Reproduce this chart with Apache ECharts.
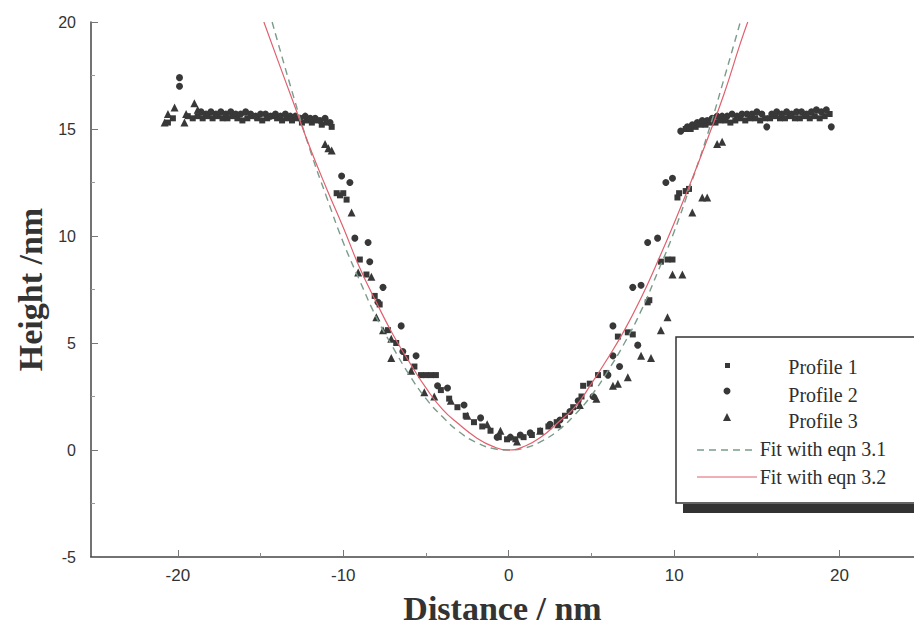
<!DOCTYPE html>
<html>
<head>
<meta charset="utf-8">
<title>Height profile</title>
<script src="https://cdn.jsdelivr.net/npm/echarts@6/dist/echarts.min.js"></script>
<style>
  html, body { margin: 0; padding: 0; background: #fff; }
  #main { width: 914px; height: 630px; }
</style>
</head>
<body>
<div id="main"></div>
<script>
'use strict';

// tick labels
var xLabels = [-20, -10, 0, 10, 20];
var xMinorTicks = [-15, -5, 5, 15];

// Profile 1 (squares)
var profile1 = [
    [-20.6, 15.3], [-20.3, 15.5], [-19.4, 15.6], [-19.1, 15.5], [-18.8, 15.6], [-18.5, 15.5], [-18.2, 15.6],
    [-17.9, 15.5], [-17.6, 15.6], [-17.3, 15.5], [-17.0, 15.5], [-16.7, 15.6], [-16.4, 15.5], [-16.1, 15.4],
    [-15.8, 15.5], [-15.5, 15.6], [-15.2, 15.5], [-14.9, 15.4], [-14.6, 15.5], [-14.3, 15.6], [-14.0, 15.5],
    [-13.7, 15.4], [-13.4, 15.5], [-13.1, 15.4], [-12.8, 15.5], [-12.5, 15.3], [-12.2, 15.4], [-11.9, 15.3],
    [-11.6, 15.4], [-11.3, 15.2], [-11.0, 15.3], [-10.7, 15.1],
    [-10.4, 12.0], [-10.2, 11.9], [-10.0, 12.0], [-9.8, 11.7], [-9.0, 8.9], [-8.6, 8.2], [-8.1, 7.2],
    [-7.8, 6.8], [-7.3, 5.6], [-6.8, 5.0], [-6.2, 4.3], [-5.7, 3.9], [-5.3, 3.5], [-5.0, 3.5], [-4.7, 3.5],
    [-4.4, 3.5], [-4.1, 2.8], [-3.6, 2.4], [-3.1, 2.0], [-2.6, 1.6], [-2.1, 1.3], [-1.6, 1.1], [-1.1, 0.9],
    [-0.6, 0.6], [-0.1, 0.5], [0.4, 0.5], [0.9, 0.6], [1.4, 0.7], [1.9, 0.9], [2.4, 1.1], [2.9, 1.3],
    [3.4, 1.6], [3.9, 2.0], [4.4, 2.5], [4.5, 3.0], [4.9, 3.1], [5.4, 3.5], [5.9, 3.6], [6.6, 5.3],
    [7.2, 5.5], [7.5, 5.4], [8.4, 6.9], [8.5, 7.0], [9.2, 8.8], [9.6, 8.9], [9.9, 8.9], [10.2, 11.8],
    [10.3, 12.0], [10.7, 12.1], [10.9, 12.2],
    [10.7, 15.0], [11.0, 15.0], [11.3, 15.1], [11.6, 15.2], [11.9, 15.2], [12.2, 15.3], [12.5, 15.3],
    [12.8, 15.4], [13.1, 15.4], [13.4, 15.3], [13.7, 15.4], [14.0, 15.5], [14.3, 15.4], [14.6, 15.5],
    [14.9, 15.5], [15.2, 15.4], [15.5, 15.5], [15.8, 15.5], [16.1, 15.6], [16.4, 15.5], [16.7, 15.5],
    [17.0, 15.6], [17.3, 15.5], [17.6, 15.5], [17.9, 15.6], [18.2, 15.5], [18.5, 15.6], [18.8, 15.5],
    [19.1, 15.6], [19.4, 15.7]
];

// Profile 2 (circles)
var profile2 = [
    [-19.9, 17.4], [-19.9, 17.0],
    [-18.6, 15.8], [-18.3, 15.7], [-18.0, 15.8], [-17.7, 15.7], [-17.4, 15.8], [-17.1, 15.7], [-16.8, 15.8],
    [-16.5, 15.7], [-16.2, 15.7], [-15.9, 15.8], [-15.6, 15.7], [-15.3, 15.6], [-15.0, 15.7], [-14.7, 15.7],
    [-14.4, 15.6], [-14.1, 15.7], [-13.8, 15.6], [-13.5, 15.7], [-13.2, 15.6], [-12.9, 15.6], [-12.6, 15.5],
    [-12.3, 15.6], [-12.0, 15.5], [-11.7, 15.5], [-11.4, 15.4], [-11.1, 15.5], [-10.8, 15.3],
    [-10.1, 12.8], [-9.6, 12.5], [-9.3, 9.9], [-8.5, 9.7], [-8.4, 8.8], [-7.6, 7.6], [-7.9, 6.9],
    [-6.5, 5.8], [-6.4, 4.6], [-5.6, 4.4], [-4.3, 3.0], [-3.7, 2.9], [-2.7, 2.1], [-1.7, 1.5], [-0.7, 0.6],
    [0.1, 0.6], [0.7, 0.7], [1.3, 0.8], [2.5, 1.2], [3.1, 1.4], [3.7, 1.8], [4.2, 2.3], [5.1, 2.5],
    [6.0, 3.5], [6.7, 3.9], [6.3, 4.4], [7.8, 4.9], [6.3, 5.8], [7.5, 7.6], [8.0, 7.7], [8.4, 9.7],
    [9.0, 9.9], [9.5, 12.5], [9.9, 12.7],
    [10.4, 14.9], [10.8, 15.1], [11.1, 15.2], [11.4, 15.3], [11.7, 15.4], [12.0, 15.4], [12.3, 15.5],
    [12.6, 15.6], [12.9, 15.6], [13.2, 15.6], [13.5, 15.7], [13.8, 15.6], [14.1, 15.7], [14.4, 15.7],
    [14.7, 15.7], [15.0, 15.8], [15.3, 15.7], [15.6, 15.1], [15.9, 15.7], [16.2, 15.8], [16.5, 15.7],
    [16.8, 15.8], [17.1, 15.7], [17.4, 15.8], [17.7, 15.8], [18.0, 15.7], [18.3, 15.8], [18.6, 15.9],
    [18.9, 15.8], [19.2, 15.9], [19.5, 15.1]
];

// Profile 3 (triangles)
var profile3 = [
    [-20.8, 15.3], [-20.6, 15.7], [-20.2, 16.0], [-19.6, 15.3], [-19.5, 15.7], [-19.0, 16.2], [-18.8, 15.9],
    [-11.1, 14.3], [-10.9, 14.1], [-10.7, 14.0], [-9.5, 11.1], [-9.1, 8.3], [-8.3, 8.1], [-8.0, 6.2],
    [-7.6, 5.6], [-7.1, 5.2], [-7.1, 4.3], [-5.9, 3.7], [-5.1, 2.7], [-4.5, 2.5], [-3.5, 2.3], [-2.5, 1.6],
    [-1.3, 1.2], [-0.5, 0.9], [0.5, 0.4], [1.9, 0.9], [3.0, 1.2], [4.3, 2.1], [5.3, 2.4], [6.3, 3.0],
    [6.6, 3.1], [7.2, 3.4], [8.0, 4.4], [8.6, 4.3], [9.2, 5.6], [9.6, 6.2], [9.9, 8.2], [10.5, 8.2],
    [11.1, 11.1], [11.7, 11.8], [12.0, 11.8], [12.6, 14.3], [12.9, 14.4]
];

// Fit with eqn 3.1 (dashed)
var fit31 = [
    [-14.3, 20], [-13, 16.5], [-12, 14.0], [-11, 11.8], [-10, 9.7], [-9, 7.9], [-8, 6.2], [-7, 4.8],
    [-6, 3.5], [-5, 2.4], [-4, 1.55], [-3, 0.85], [-2, 0.37], [-1, 0.08], [0, 0], [1, 0.1], [2, 0.42],
    [3, 0.92], [4, 1.65], [5, 2.55], [6, 3.7], [7, 5.0], [8, 6.5], [9, 8.3], [10, 10.2], [11, 12.4],
    [12, 14.7], [13, 17.3], [14, 20]
];

// Fit with eqn 3.2 (solid red)
var fit32 = [
    [-14.8, 20], [-14, 18.3], [-13, 16.2], [-12, 14.1], [-11, 12.2], [-10, 10.4], [-9, 8.5], [-8, 6.9],
    [-7, 5.4], [-6, 4.1], [-5, 2.9], [-4, 1.9], [-3, 1.2], [-2, 0.6], [-1, 0.18], [0, 0], [1, 0.19],
    [2, 0.63], [3, 1.3], [4, 2.0], [5, 3.1], [6, 4.3], [7, 5.6], [8, 7.1], [9, 8.8], [10, 10.6],
    [11, 12.5], [12, 14.5], [13, 16.6], [14, 19.0], [14.45, 20]
];

var dark = '#383838';
var serif = '"Liberation Serif", "DejaVu Serif", serif';

var chart = echarts.init(document.getElementById('main'), null, { renderer: 'svg' });

//图例
function legendGraphic() {
    var items = [];
    items.push({ type: 'rect', shape: { x: 676, y: 337, width: 260, height: 166 },
        style: { fill: '#fff', stroke: '#333', lineWidth: 1.5 }, z: 10 });
    items.push({ type: 'rect', shape: { x: 683, y: 504, width: 240, height: 9 },
        style: { fill: '#333' }, z: 10 });
    items.push({ type: 'rect', shape: { x: 725, y: 363, width: 5, height: 5 }, style: { fill: dark }, z: 11 });
    items.push({ type: 'circle', shape: { cx: 727, cy: 391, r: 3.5 }, style: { fill: dark }, z: 11 });
    items.push({ type: 'polygon', shape: { points: [[723, 421], [731, 421], [727, 413]] }, style: { fill: dark }, z: 11 });
    items.push({ type: 'line', shape: { x1: 697, y1: 450, x2: 757, y2: 450 },
        style: { stroke: '#7a9c8a', lineWidth: 1.5, lineDash: [7, 5] }, z: 11 });
    items.push({ type: 'line', shape: { x1: 697, y1: 477, x2: 757, y2: 477 },
        style: { stroke: '#e0606e', lineWidth: 1.2 }, z: 11 });
    var texts = [['Profile 1', 367], ['Profile 2', 395], ['Profile 3', 421], ['Fit with eqn 3.1', 449], ['Fit with eqn 3.2', 477]];
    texts.forEach(function(t) {
        items.push({ type: 'text', x: 823, y: t[1], z: 11,
            style: { text: t[0], fill: '#2e2e2e', font: '20px ' + serif, align: 'center', verticalAlign: 'middle' } });
    });
    return items;
}

var option = {
    animation: false,
    backgroundColor: '#fff',
    grid: { left: 91, right: 0, top: 22, bottom: 71, containLabel: false },
    xAxis: [{
        type: 'value', min: -25.25, max: 24.5, position: 'bottom',
        name: 'Distance / nm', nameLocation: 'middle', nameGap: 34,
        nameTextStyle: { fontFamily: serif, fontWeight: 'bold', fontSize: 34, color: '#333' },
        axisLine: { show: true, onZero: false, lineStyle: { color: '#444', width: 1.5 } },
        axisTick: { show: true, inside: true, length: 7, customValues: xLabels, lineStyle: { color: '#777' } },
        axisLabel: { customValues: xLabels, margin: 10, color: '#333', fontSize: 17,
            fontFamily: '"Liberation Sans Narrow", "Liberation Sans", sans-serif' },
        splitLine: { show: false }
    }, {
        type: 'value', min: -25.25, max: 24.5, position: 'bottom',
        axisLine: { show: false, onZero: false },
        axisTick: { show: true, inside: true, length: 4, customValues: xMinorTicks, lineStyle: { color: '#888' } },
        axisLabel: { show: false },
        splitLine: { show: false }
    }],
    yAxis: {
        type: 'value', min: -5, max: 20, interval: 5,
        name: 'Height /nm', nameLocation: 'middle', nameRotate: 90, nameGap: 44,
        nameTextStyle: { fontFamily: serif, fontWeight: 'bold', fontSize: 34, color: '#333' },
        axisLine: { show: true, onZero: false, lineStyle: { color: '#444', width: 1.5 } },
        axisTick: { show: true, inside: true, length: 7, lineStyle: { color: '#777' } },
        minorTick: { show: true, splitNumber: 2, length: 4, lineStyle: { color: '#999' } },
        axisLabel: { margin: 15, color: '#333', fontSize: 16, fontFamily: '"Liberation Sans", Arial, sans-serif' },
        splitLine: { show: false }
    },
    series: [
        { name: 'Profile 1', type: 'scatter', data: profile1, symbol: 'rect', symbolSize: 6,
          itemStyle: { color: dark, opacity: 1 } },
        { name: 'Profile 2', type: 'scatter', data: profile2, symbol: 'circle', symbolSize: 7,
          itemStyle: { color: dark, opacity: 1 } },
        { name: 'Profile 3', type: 'scatter', data: profile3, symbol: 'triangle', symbolSize: 8,
          itemStyle: { color: dark, opacity: 1 } },
        { name: 'Fit with eqn 3.1', type: 'line', data: fit31, showSymbol: false, smooth: true,
          lineStyle: { color: '#7a9c8a', width: 1.4, type: [7, 5] } },
        { name: 'Fit with eqn 3.2', type: 'line', data: fit32, showSymbol: false, smooth: true,
          lineStyle: { color: '#e0606e', width: 1.2 } }
    ],
    graphic: legendGraphic()
};

chart.setOption(option);
</script>
</body>
</html>
